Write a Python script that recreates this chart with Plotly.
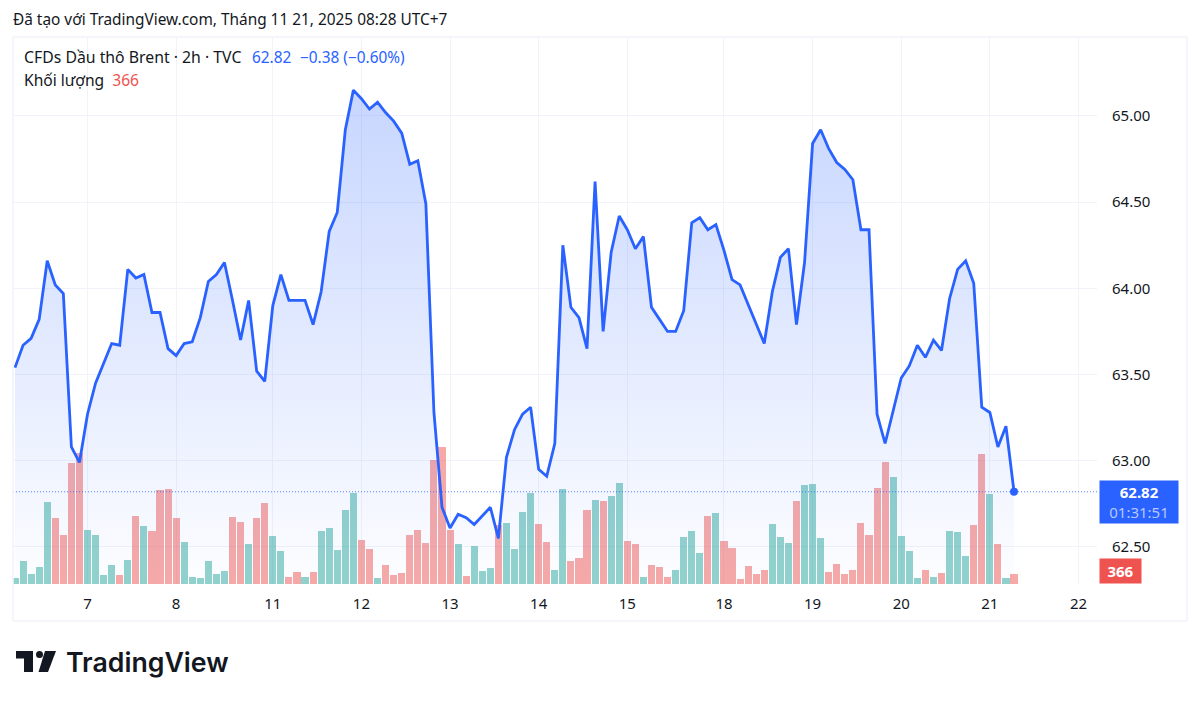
# filename: plot.py
import plotly.graph_objects as go

# price closes, 2h bars
close = [
    63.54, 63.67, 63.71, 63.82, 64.16, 64.02, 63.97, 63.08, 62.99, 63.27,
    63.45, 63.56, 63.68, 63.67, 64.11, 64.06, 64.08, 63.86, 63.86, 63.65,
    63.61, 63.68, 63.69, 63.83, 64.04, 64.08, 64.15, 63.93, 63.70, 63.93,
    63.52, 63.46, 63.90, 64.08, 63.93, 63.93, 63.93, 63.79, 63.98, 64.33,
    64.44, 64.92, 65.15, 65.10, 65.04, 65.08, 65.02, 64.97, 64.90, 64.72,
    64.74, 64.49, 63.28, 62.73, 62.61, 62.69, 62.67, 62.63, 62.68, 62.73,
    62.55, 63.02, 63.18, 63.27, 63.31, 62.95, 62.91, 63.10, 64.25, 63.89,
    63.83, 63.65, 64.62, 63.75, 64.21, 64.42, 64.34, 64.23, 64.30, 63.89,
    63.82, 63.75, 63.75, 63.87, 64.38, 64.41, 64.34, 64.37, 64.22, 64.05,
    64.02, 63.91, 63.79, 63.68, 63.98, 64.18, 64.23, 63.79, 64.15, 64.84,
    64.92, 64.81, 64.73, 64.69, 64.63, 64.34, 64.34, 63.27, 63.10, 63.29,
    63.48, 63.55, 63.67, 63.60, 63.70, 63.64, 63.94, 64.11, 64.16, 64.03,
    63.31, 63.28, 63.08, 63.20, 62.82,
]
volume = [
    231, 831, 366, 622, 2990, 2405, 1804, 4429, 4784, 1976,
    1782, 329, 695, 329, 889, 2489, 2134, 1940, 3440, 3477,
    2427, 1537, 267, 231, 831, 366, 465, 2463, 2269, 1475,
    2405, 2954, 1746, 1208, 267, 428, 267, 428, 1940, 2061,
    1244, 2719, 3342, 1610, 1281, 231, 695, 329, 403, 1804,
    1976, 1512, 4527, 5014, 1976, 1453, 304, 1380, 465, 597,
    2159, 2233, 1281, 2624, 3342, 2196, 1537, 501, 3466, 853,
    952, 2697, 3074, 3027, 3221, 3697, 1574, 1453, 267, 695,
    622, 267, 501, 1709, 1940, 1124, 2489, 2588, 1574, 1318,
    194, 659, 366, 501, 2196, 1709, 1512, 3049, 3612, 3671,
    1673, 428, 721, 366, 523, 2233, 1804, 3503, 4465, 3927,
    1746, 1208, 231, 501, 267, 403, 1940, 1903, 1025, 2159,
    4758, 3283, 1453, 231, 366,
]
# r = down bar, g = up bar
bar_dir = (
    "gggggrrrrg" "gggrgrgrrr" "rggggggrrg" "rrggrrgrgg" "gggrrgrrrr"
    "rrrrrgrggg" "rggggrrggr" "rrgrggrrgr" "rrggggrgrr" "rrrrgggrgg"
    "grrrrrrrrg" "gggrgrgggr" "rgrgr"
)
tick_pos = [9, 20, 32, 43, 54, 65, 76, 88, 99, 110, 121, 132]
tick_labels = ["7", "8", "11", "12", "13", "14", "15", "18", "19", "20", "21", "22"]
price_ticks = [62.5, 63.0, 63.5, 64.0, 64.5, 65.0]

W, H = 1200, 702
LEFT, RIGHT, TOP, BOTTOM = 13, 1097, 37, 584
FONT = "Noto Sans"
INK = "#131722"
BLUE = "#2962ff"
GRID = "#f0f3fa"
x = list(range(len(close)))
price_range = [62.285, 65.458]
vol_range = [0, 20020]


def px(v):
    return (v - LEFT) / (RIGHT - LEFT)


def py(v):
    return (BOTTOM - v) / (BOTTOM - TOP)


fig = go.Figure()

# bars and area share the subplot order so the fill tints the bars
fig.add_trace(go.Bar(
    x=x, y=volume, yaxis="y", width=0.88,
    marker=dict(color=["rgba(38,166,154,0.5)" if d == "g" else "rgba(239,83,80,0.5)" for d in bar_dir],
                line=dict(width=0)),
))
fig.add_trace(go.Scatter(
    x=x, y=close, mode="lines", yaxis="y2", fill="tozeroy",
    line=dict(color=BLUE, width=2.8),
    fillgradient=dict(type="vertical", start=price_range[0], stop=65.15,
                      colorscale=[[0, "rgba(41,98,255,0.01)"], [1, "rgba(41,98,255,0.26)"]]),
))
fig.add_trace(go.Scatter(
    x=x[-1:], y=close[-1:], mode="markers", yaxis="y2",
    marker=dict(color=BLUE, size=8),
))

fig.add_shape(type="line", xref="paper", x0=0, x1=1, yref="y2", y0=close[-1], y1=close[-1],
              line=dict(color="rgba(41,98,255,0.8)", width=1, dash="1px,2px"))

# outer frame
for x0, y0, x1, y1 in [(13, 37, 1187, 37), (13, 37, 13, 621), (13, 621, 1187, 621), (1187, 37, 1187, 621)]:
    fig.add_shape(type="line", xref="paper", yref="paper", x0=px(x0), x1=px(x1), y0=py(y0), y1=py(y1),
                  line=dict(color=GRID, width=1.5))

# logo mark
fig.add_shape(type="path", xref="paper", yref="paper", fillcolor=INK, line_width=0,
              path=f"M{px(16)},{py(651)} L{px(33)},{py(651)} L{px(33)},{py(672)} L{px(24)},{py(672)} "
                   f"L{px(24)},{py(658.5)} L{px(16)},{py(658.5)} Z")
fig.add_shape(type="path", xref="paper", yref="paper", fillcolor=INK, line_width=0,
              path=f"M{px(45)},{py(651)} L{px(56)},{py(651)} L{px(48)},{py(672)} L{px(38.5)},{py(672)} Z")
fig.add_shape(type="circle", xref="paper", yref="paper", fillcolor=INK, line_width=0,
              x0=px(36), x1=px(43), y0=py(651), y1=py(658))


def label(text, x_pos, y_pos, size=15.4, color=INK, family=FONT, **kw):
    fig.add_annotation(text=text, xref="paper", yref="paper", x=px(x_pos), y=py(y_pos),
                       xanchor="left", yanchor="middle", showarrow=False,
                       font=dict(family=family, size=size, color=color, **kw))


label("Đã tạo với TradingView.com, Tháng 11 21, 2025 08:28 UTC+7", 11, 20)
label("CFDs Dầu thô Brent · 2h · TVC", 22, 57, size=15.8)
label("62.82", 250, 57, color=BLUE)
label("−0.38 (−0.60%)", 298, 57, color=BLUE)
label('Khối lượng  <span style="color:#ef5350">366</span>', 22, 80, size=15.6)
label("TradingView", 64, 662, size=26.7, family="Inter", weight=600)

# price scale badges
fig.add_annotation(
    text='<b>62.82</b><br><span style="color:#b4c8ff">01:31:51</span>',
    xref="paper", yref="y2", x=1, y=close[-1], xanchor="left", yanchor="top", xshift=2, yshift=12,
    width=76, height=40, bgcolor=BLUE, borderpad=1, showarrow=False, align="center",
    font=dict(family=FONT, size=15, color="white"),
)
fig.add_annotation(
    text=f"<b>{volume[-1]}</b>",
    xref="paper", yref="paper", x=1, y=0, xanchor="left", yanchor="bottom", xshift=2,
    width=39, height=22, bgcolor="#ef5350", borderpad=1, showarrow=False, align="center",
    font=dict(family=FONT, size=15, color="white"),
)

fig.update_layout(
    width=W, height=H, showlegend=False, bargap=0,
    paper_bgcolor="white", plot_bgcolor="white",
    margin=dict(l=LEFT, r=W - RIGHT, t=TOP, b=H - BOTTOM),
    xaxis=dict(range=[-0.248, 134.3], tickmode="array", tickvals=tick_pos, ticktext=tick_labels,
               showgrid=True, gridcolor=GRID, gridwidth=1, zeroline=False, showline=False,
               ticks="outside", ticklen=6, tickcolor="rgba(0,0,0,0)",
               tickfont=dict(family=FONT, size=15, color=INK)),
    yaxis=dict(range=vol_range, visible=False),
    yaxis2=dict(range=price_range, overlaying="y", side="right", tickmode="array",
                tickvals=price_ticks, tickformat=".2f",
                showgrid=True, gridcolor=GRID, gridwidth=1, zeroline=False, showline=False,
                ticks="outside", ticklen=11, tickcolor="rgba(0,0,0,0)",
                tickfont=dict(family=FONT, size=15, color=INK)),
)

fig.write_html("out.html", config={"displayModeBar": False},
               post_script="document.body.style.margin='0';")
